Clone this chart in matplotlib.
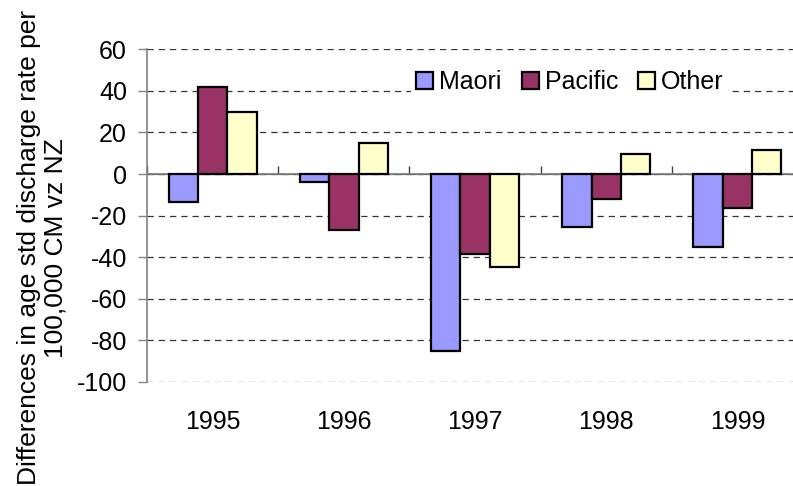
import numpy as np
import matplotlib
matplotlib.use("Agg")
import matplotlib.pyplot as plt

years = ["1995", "1996", "1997", "1998", "1999"]
maori = [-13.5, -3.8, -85.0, -25.6, -35.0]
pacific = [42.0, -26.8, -38.6, -11.9, -16.3]
other = [29.8, 15.0, -44.7, 9.5, 11.7]

plt.rcParams["font.family"] = ["Liberation Sans", "DejaVu Sans"]
plt.rcParams["font.size"] = 18
plt.rcParams["axes.unicode_minus"] = False

fig = plt.figure(figsize=(7.93, 4.86), dpi=100)
ax = fig.add_axes([0.1854, 0.214, 0.8272, 0.6846])

x = np.arange(len(years))
w = 0.224
series = [(maori, "#9999FF", "Maori"), (pacific, "#993366", "Pacific"), (other, "#FFFFCC", "Other")]
for i, (vals, col, name) in enumerate(series):
    ax.bar(x + (i - 1) * w, vals, w, color=col, edgecolor="black", linewidth=1.6,
           label=name, zorder=3)

ax.set_xlim(-0.5, len(years) - 0.5)
ax.set_ylim(-100, 60)
ax.set_yticks(range(-100, 61, 20))
ax.yaxis.grid(True, color="#333333", linestyle=(0, (5, 4)), linewidth=0.9)
ax.set_axisbelow(True)

for s in ["top", "right", "bottom"]:
    ax.spines[s].set_visible(False)
ax.spines["left"].set_color("#808080")
ax.spines["left"].set_linewidth(1.2)
ax.tick_params(axis="y", direction="out", length=6.5, width=1, color="#808080", pad=8)

ax.set_xticks(x)
ax.set_xticklabels(years)
ax.tick_params(axis="x", length=0, pad=20)

# zero axis with category boundary ticks
ax.axhline(0, color="#808080", linewidth=1.2, zorder=2)
sec = ax.secondary_xaxis(100 / 160)
sec.set_xticks(np.arange(-0.5, len(years), 1.0))
sec.set_xticklabels([])
sec.spines["bottom"].set_visible(False)
sec.tick_params(direction="out", length=5.5, width=1, color="#404040")

leg = ax.legend(loc="center left", bbox_to_anchor=(0.384, 0.902), ncol=3, frameon=True,
                fancybox=False, edgecolor="none", facecolor="white", framealpha=1,
                handlelength=0.68, handleheight=0.68, handletextpad=0.24, columnspacing=0.8,
                borderpad=0.2, fontsize=18)
leg.set_zorder(5)

fig.text(0.053, 0.49, "Differences in age std discharge rate per\n100,000 CM vz NZ",
         rotation=90, ha="center", va="center", fontsize=19, linespacing=1.15)

fig.savefig("out.png", dpi=100)
